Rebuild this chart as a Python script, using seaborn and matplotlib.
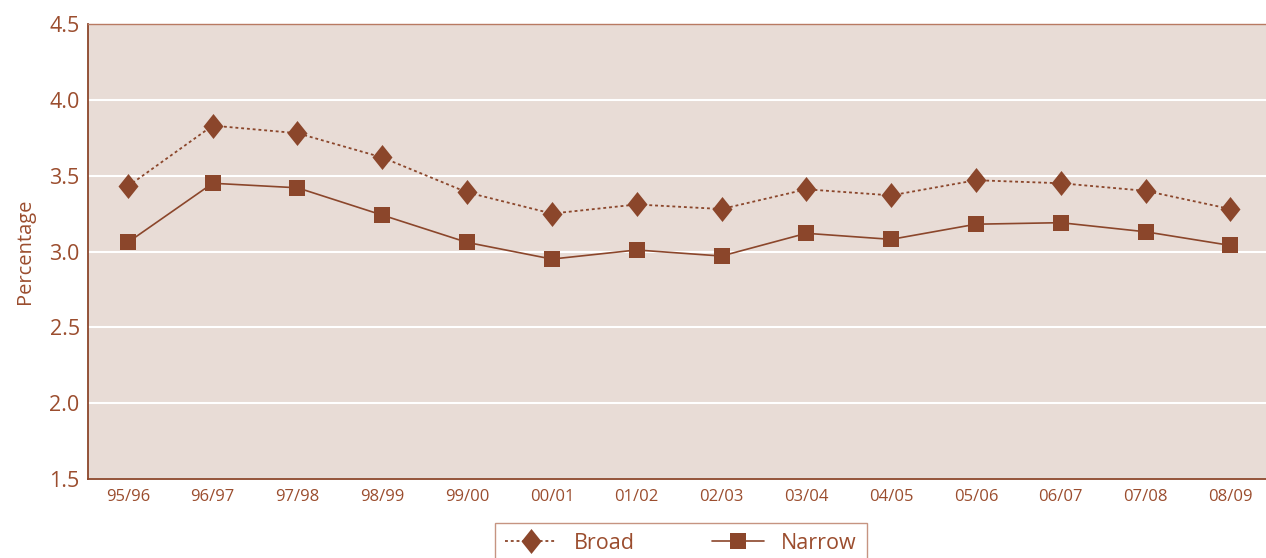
import matplotlib
matplotlib.use("Agg")
import matplotlib.pyplot as plt
import seaborn as sns
import pandas as pd

years = ["95/96", "96/97", "97/98", "98/99", "99/00", "00/01", "01/02",
         "02/03", "03/04", "04/05", "05/06", "06/07", "07/08", "08/09"]
broad = [3.43, 3.83, 3.78, 3.62, 3.39, 3.25, 3.31, 3.28, 3.41, 3.37, 3.47, 3.45, 3.40, 3.28]
narrow = [3.06, 3.45, 3.42, 3.24, 3.06, 2.95, 3.01, 2.97, 3.12, 3.08, 3.18, 3.19, 3.13, 3.04]
y_ticks = [1.5, 2.0, 2.5, 3.0, 3.5, 4.0, 4.5]

sns.set_theme(style="white")
plt.rcParams["font.family"] = ["Open Sans", "DejaVu Sans"]

BROWN = "#8B462B"
TEXT = "#9B4D2E"
PANEL = "#E8DCD6"

df = pd.DataFrame({"x": range(len(years)), "Broad": broad, "Narrow": narrow})

fig = plt.figure(figsize=(12.66, 5.58), dpi=100)
ax = fig.add_axes([88 / 1266, 1 - 479 / 558, 1 - 88 / 1266, (479 - 24) / 558])
ax.set_facecolor(PANEL)

diamond = [(0, 1), (0.8, 0), (0, -1), (-0.8, 0), (0, 1)]

sns.lineplot(data=df, x="x", y="Broad", ax=ax, color=BROWN, lw=1.3,
             linestyle=(0, (1.6, 1.6)), marker=diamond, markersize=18,
             markeredgewidth=0, label="Broad")
sns.lineplot(data=df, x="x", y="Narrow", ax=ax, color=BROWN, lw=1.2,
             linestyle="-", marker="s", markersize=11.5,
             markeredgewidth=0, label="Narrow")

ax.set_xlim(-0.47, 13.42)
ax.set_ylim(1.5, 4.5)
ax.set_xticks(range(len(years)))
ax.set_xticklabels(years)
ax.set_yticks(y_ticks)
ax.set_yticklabels([f"{v:.1f}" for v in y_ticks])
ax.grid(axis="y", color="white", lw=1.5)
ax.set_axisbelow(True)
ax.tick_params(axis="y", length=0, pad=6, labelsize=15.5, labelcolor=TEXT)
ax.tick_params(axis="x", length=0, pad=7, labelsize=12, labelcolor=TEXT)
ax.set_xlabel("")
ax.set_ylabel("Percentage", fontsize=14.5, color=TEXT, labelpad=10)

for side in ["left", "bottom"]:
    ax.spines[side].set_color(BROWN)
    ax.spines[side].set_linewidth(1.3)
ax.spines["top"].set_color("#B87A62")
ax.spines["top"].set_linewidth(1.0)
ax.spines["right"].set_visible(False)

handles, labels = ax.get_legend_handles_labels()
ax.get_legend().remove()
leg = fig.legend(handles, labels, loc="upper center",
                 bbox_to_anchor=(681 / 1266, 1 - 523 / 558), ncol=2,
                 frameon=True, fancybox=False, fontsize=15.5, handlelength=2.4,
                 columnspacing=3.6, handletextpad=0.8, borderpad=0.45,
                 borderaxespad=0, labelcolor=TEXT)
leg.get_frame().set_edgecolor("#B87A62")
leg.get_frame().set_linewidth(1.0)

fig.savefig("out.png", dpi=100)
